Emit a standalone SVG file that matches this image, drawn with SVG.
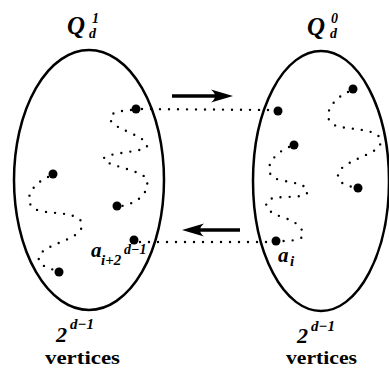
<svg xmlns="http://www.w3.org/2000/svg" width="389" height="372" viewBox="0 0 389 372">
<style>
.set{fill:none;stroke:#000;stroke-width:2.5}
.dot{fill:#000}
.path{fill:none;stroke:#000;stroke-width:2.4;stroke-linecap:round;stroke-dasharray:0 9}
.arr{fill:none;stroke:#000;stroke-width:3.5}
.lbl{font-family:"Liberation Serif","DejaVu Serif",serif;font-weight:bold;font-style:italic;fill:#000}
.up{font-family:"Liberation Serif","DejaVu Serif",serif;font-weight:bold;fill:#000}
</style>
<defs>
<marker id="head" markerUnits="userSpaceOnUse" viewBox="0 0 22 14" refX="15" refY="7" markerWidth="22" markerHeight="14" orient="auto">
<path d="M22,7 L0,0.5 Q8,7 0,13.5 Z" fill="#000"/>
</marker>
</defs>
<g id="Q1">
<ellipse class="set" cx="89" cy="180" rx="75" ry="130"/>
<text class="lbl" x="67" y="34" font-size="25">Q</text>
<text class="lbl" x="92" y="23" font-size="14">1</text>
<text class="lbl" x="89" y="38" font-size="14">d</text>
<text class="lbl" x="56" y="342" font-size="22">2</text>
<text class="lbl" x="70" y="329" font-size="15">d−1</text>
<text class="up" x="45" y="364" font-size="18" textLength="75" lengthAdjust="spacingAndGlyphs">vertices</text>
</g>
<g id="Q0">
<ellipse class="set" cx="321" cy="181" rx="68" ry="130"/>
<text class="lbl" x="307" y="35" font-size="25">Q</text>
<text class="lbl" x="331" y="23" font-size="14">0</text>
<text class="lbl" x="330" y="38" font-size="14">d</text>
<text class="lbl" x="297" y="343" font-size="22">2</text>
<text class="lbl" x="311" y="331" font-size="15">d−1</text>
<text class="up" x="286" y="364" font-size="18" textLength="71" lengthAdjust="spacingAndGlyphs">vertices</text>
</g>
<g id="vertices">
<circle class="dot" cx="136" cy="109" r="4.5"/>
<circle class="dot" cx="53" cy="174" r="4.5"/>
<circle class="dot" cx="117" cy="206" r="4.5"/>
<circle class="dot" cx="134" cy="240" r="4.5"/>
<circle class="dot" cx="59" cy="272" r="4.5"/>
<circle class="dot" cx="278" cy="111" r="4.5"/>
<circle class="dot" cx="353" cy="89" r="4.5"/>
<circle class="dot" cx="294" cy="145" r="4.5"/>
<circle class="dot" cx="358" cy="188" r="4.5"/>
<circle class="dot" cx="276" cy="241" r="4.5"/>
<text class="lbl" x="91" y="257" font-size="21">a</text>
<text class="lbl" x="101" y="265" font-size="15">i+2</text>
<text class="lbl" x="124" y="254" font-size="14">d−1</text>
<text class="lbl" x="278" y="262" font-size="21">a</text>
<text class="lbl" x="290" y="266" font-size="15">i</text>
</g>
<g id="connectors">
<path class="path" d="M131,110 C115,111 108,114 111,121 C116,130 147,136 147,146 C147,152 110,152 104,158 C100,165 145,170 147,180 C149,192 140,202 122,206"/>
<path class="path" d="M48,177 C30,185 20,205 40,211 C55,214 82,212 82,225 C82,240 45,243 39,256 C37,263 45,268 55,270"/>
<path class="path" d="M348,92 C330,100 318,122 340,127 C360,130 385,130 380,145 C376,155 337,162 338,176 C339,184 348,186 353,187"/>
<path class="path" d="M289,147 C270,155 260,175 280,180 C295,183 310,185 307,193 C305,199 275,195 268,200 C262,208 272,214 285,218 C300,223 305,232 302,237 C300,240 290,241 281,241"/>
<path class="path" d="M142,109 L272,110"/>
<path class="path" d="M140,242 L270,242"/>
<path class="arr" d="M172,96 L226,96" marker-end="url(#head)"/>
<path class="arr" d="M240,230 L189,230" marker-end="url(#head)"/>
</g>
</svg>
